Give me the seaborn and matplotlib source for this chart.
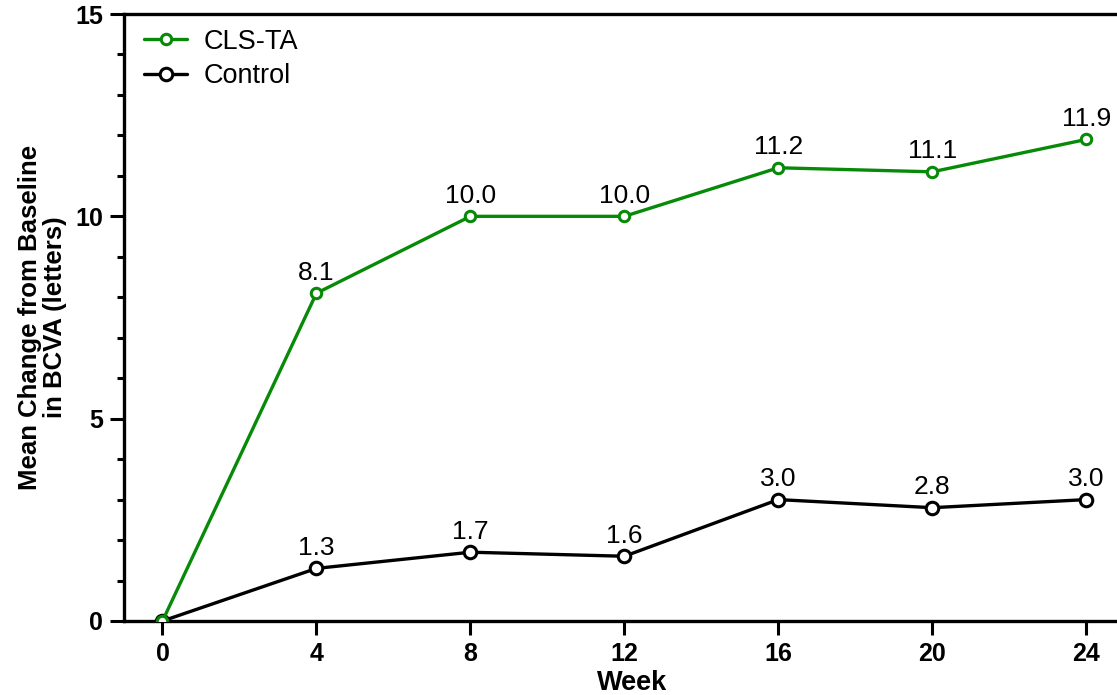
import numpy as np
import pandas as pd
import matplotlib
matplotlib.use('Agg')
import matplotlib.pyplot as plt
from matplotlib.ticker import MultipleLocator
import seaborn as sns

# Data
weeks = [0, 4, 8, 12, 16, 20, 24]
cls_ta = [0.0, 8.1, 10.0, 10.0, 11.2, 11.1, 11.9]
control = [0.0, 1.3, 1.7, 1.6, 3.0, 2.8, 3.0]

df = pd.DataFrame({'Week': weeks * 2,
                   'Change': cls_ta + control,
                   'Group': ['CLS-TA'] * len(weeks) + ['Control'] * len(weeks)})

sns.set_style('ticks')
plt.rcParams['font.family'] = ['Liberation Sans', 'DejaVu Sans']
plt.rcParams['text.color'] = 'black'
plt.rcParams['axes.labelcolor'] = 'black'
plt.rcParams['xtick.color'] = 'black'
plt.rcParams['ytick.color'] = 'black'

fig = plt.figure(figsize=(11.17, 6.95), dpi=100)
ax = fig.add_axes([124 / 1117, 1 - 621 / 695, 1 - 124 / 1117 + 0.02, (621 - 14) / 695])

green = '#078a07'
# control first so green is drawn on top at week 0
sns.lineplot(data=df[df.Group == 'Control'], x='Week', y='Change', ax=ax,
             color='black', lw=2.4, marker='o', markersize=9,
             markerfacecolor='white', markeredgecolor='black', markeredgewidth=2.2,
             label='Control', zorder=3)
sns.lineplot(data=df[df.Group == 'CLS-TA'], x='Week', y='Change', ax=ax,
             color=green, lw=2.4, marker='o', markersize=7.5,
             markerfacecolor='white', markeredgecolor=green, markeredgewidth=2.2,
             label='CLS-TA', zorder=4)

# value labels
for x, y in zip(weeks[1:], cls_ta[1:]):
    ax.annotate(f'{y:.1f}', (x, y), xytext=(0, 6), textcoords='offset points',
                ha='center', va='bottom', fontsize=19)
for x, y in zip(weeks[1:], control[1:]):
    ax.annotate(f'{y:.1f}', (x, y), xytext=(0, 6), textcoords='offset points',
                ha='center', va='bottom', fontsize=19)

ax.set_xlim(-1, 24.8 + 0.02 * 1117 / 38.5)
ax.set_ylim(0, 15)
ax.set_xticks(weeks)
ax.set_yticks([0, 5, 10, 15])
ax.yaxis.set_minor_locator(MultipleLocator(1))
ax.tick_params(axis='both', which='major', direction='out', length=10, width=2.2,
               labelsize=18, pad=5)
ax.tick_params(axis='y', which='minor', direction='out', length=5, width=2.2)
for lab in ax.get_xticklabels() + ax.get_yticklabels():
    lab.set_fontweight('bold')

for side in ['left', 'bottom', 'top', 'right']:
    ax.spines[side].set_linewidth(2.4)
    ax.spines[side].set_color('black')

ax.set_xlabel('Week', fontsize=19.5, fontweight='bold', labelpad=3)
ax.set_ylabel('Mean Change from Baseline\nin BCVA (letters)', fontsize=18.5,
              fontweight='bold', labelpad=6, linespacing=1.05)

handles, labels = ax.get_legend_handles_labels()
order = [labels.index('CLS-TA'), labels.index('Control')]
ax.legend([handles[i] for i in order], [labels[i] for i in order],
          loc='upper left', frameon=False, fontsize=19.5, handlelength=1.6,
          bbox_to_anchor=(0.005, 1.0), borderaxespad=0.15, labelspacing=0.3,
          handletextpad=0.6)

fig.savefig('out.png', dpi=100)
